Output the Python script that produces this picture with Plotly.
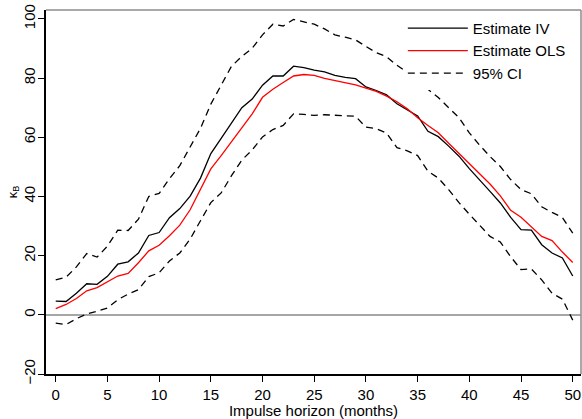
import plotly.graph_objects as go

horizon = list(range(51))

iv = [4.6, 4.5, 7.3, 10.5, 10.3, 13.0, 17.1, 17.9, 20.9, 26.8,
      27.8, 32.8, 35.9, 40.1, 46.2, 54.5, 59.6, 64.8, 70.0, 72.9,
      77.6, 80.7, 80.7, 84.0, 83.5, 82.7, 82.1, 80.9, 80.2, 79.8,
      77.0, 75.8, 74.3, 71.3, 69.3, 67.2, 62.0, 60.2, 57.0, 53.6,
      49.4, 45.4, 41.7, 37.8, 32.9, 28.8, 28.6, 23.7, 20.9, 19.2,
      13.1]

ols = [2.1, 3.5, 5.5, 8.1, 9.2, 11.2, 13.1, 14.0, 17.6, 21.6,
       23.5, 26.7, 30.3, 35.5, 42.3, 49.3, 53.8, 58.6, 63.5, 67.9,
       73.5, 76.2, 78.5, 80.7, 81.2, 80.9, 79.9, 79.2, 78.5, 77.7,
       76.6, 75.5, 73.9, 72.0, 69.6, 66.6, 64.0, 61.5, 58.0, 54.6,
       51.0, 47.5, 44.2, 40.2, 35.3, 33.0, 29.8, 26.5, 25.1, 21.2,
       17.7]

ci_upper = [11.8, 12.7, 16.2, 20.7, 19.5, 23.2, 28.6, 28.5, 32.3, 40.0,
            41.0, 46.0, 50.4, 56.5, 63.0, 71.2, 77.6, 84.0, 87.3, 90.1,
            94.6, 98.2, 97.6, 99.8, 99.0, 98.2, 96.6, 94.6, 93.8, 92.9,
            90.7, 88.6, 87.2, 84.3, 82.0, 79.0, 76.2, 73.4, 69.9, 66.6,
            61.5, 57.3, 53.5, 50.1, 45.7, 42.3, 40.9, 36.5, 34.6, 32.9,
            27.6]

ci_lower = [-2.8, -3.3, -1.3, 0.3, 1.2, 2.3, 5.1, 7.0, 8.5, 12.9,
            14.2, 18.2, 20.9, 25.6, 31.8, 37.9, 41.2, 47.0, 52.3, 55.7,
            60.1, 62.6, 64.0, 67.9, 67.7, 67.4, 67.6, 67.5, 67.3, 67.1,
            63.4, 62.9, 61.4, 56.5, 55.4, 53.8, 48.5, 46.2, 42.3, 37.9,
            34.0, 30.1, 26.5, 24.6, 19.6, 15.3, 15.5, 11.8, 7.3, 5.3,
            -1.8]

x_ticks = [0, 5, 10, 15, 20, 25, 30, 35, 40, 45, 50]
y_ticks = [-20, 0, 20, 40, 60, 80, 100]

FONT = "Liberation Sans, Arial, Helvetica, sans-serif"
DASH = "7px,5px"

fig = go.Figure()
fig.add_trace(go.Scatter(x=horizon, y=iv, mode="lines", name="Estimate IV",
                         line=dict(color="black", width=1.3)))
fig.add_trace(go.Scatter(x=horizon, y=ols, mode="lines", name="Estimate OLS",
                         line=dict(color="#ff0000", width=1.3)))
fig.add_trace(go.Scatter(x=horizon, y=ci_upper, mode="lines", name="95% CI",
                         line=dict(color="black", width=1.3, dash=DASH)))
fig.add_trace(go.Scatter(x=horizon, y=ci_lower, mode="lines", name="95% CI",
                         showlegend=False,
                         line=dict(color="black", width=1.3, dash=DASH)))

# gray top and right frame
fig.add_shape(type="line", xref="paper", yref="paper", x0=0, x1=1, y0=1, y1=1,
              line=dict(color="#8c8c8c", width=1.5))
fig.add_shape(type="line", xref="paper", yref="paper", x0=1, x1=1, y0=0, y1=1,
              line=dict(color="#8c8c8c", width=1.5))

fig.update_layout(
    width=582, height=419,
    margin=dict(l=46, r=1, t=10, b=40),
    paper_bgcolor="white", plot_bgcolor="white",
    font=dict(family=FONT, size=15, color="black"),
    showlegend=True,
    legend=dict(x=0.981, xanchor="right", y=0.995, yanchor="top",
                bgcolor="white", borderwidth=0,
                font=dict(family=FONT, size=15, color="black"),
                itemwidth=60, tracegroupgap=0),
    xaxis=dict(range=[-0.94, 50.8], tickmode="array", tickvals=x_ticks,
               showgrid=False, zeroline=False, showline=True,
               linecolor="black", linewidth=1.5,
               ticks="outside", ticklen=6, tickwidth=1.2, tickcolor="black",
               title=dict(text="Impulse horizon (months)", standoff=5,
                          font=dict(size=15))),
    yaxis=dict(range=[-20, 103], tickmode="array", tickvals=y_ticks,
               showgrid=False, zeroline=True, zerolinecolor="#a6a6a6",
               zerolinewidth=1.5, showline=True,
               linecolor="black", linewidth=1.5,
               ticks="outside", ticklen=6, tickwidth=1.2, tickcolor="black",
               tickangle=-90, ticklabelstandoff=-3,
               title=dict(text="κ<sub>B</sub>", standoff=1,
                          font=dict(size=13))),
)

fig.write_html("out.html")
